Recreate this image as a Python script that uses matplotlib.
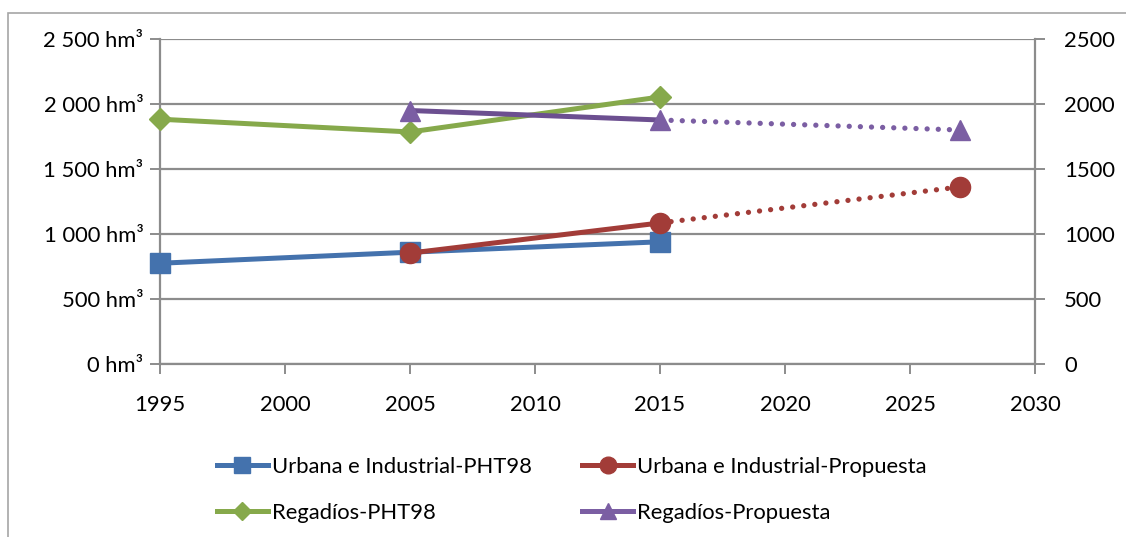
import matplotlib.pyplot as plt
from matplotlib.patches import Rectangle
from matplotlib.lines import Line2D

plt.rcParams['font.family'] = ['Lato', 'DejaVu Sans']

# data
urb_pht_years = [1995, 2005, 2015]
urb_pht_vals = [775, 860, 940]
urb_prop_years = [2005, 2015, 2027]
urb_prop_vals = [853, 1085, 1362]
reg_pht_years = [1995, 2005, 2015]
reg_pht_vals = [1883, 1785, 2054]
reg_prop_years = [2005, 2015, 2027]
reg_prop_vals = [1950, 1877, 1800]

x_ticks = [1995, 2000, 2005, 2010, 2015, 2020, 2025, 2030]
y_ticks = [0, 500, 1000, 1500, 2000, 2500]
left_labels = ['0 hm³', '500 hm³', '1 000 hm³', '1 500 hm³', '2 000 hm³', '2 500 hm³']
right_labels = ['0', '500', '1000', '1500', '2000', '2500']

names = ['Urbana e Industrial-PHT98', 'Urbana e Industrial-Propuesta',
         'Regadíos-PHT98', 'Regadíos-Propuesta']

blue = '#4472AD'
red = '#A23C38'
green = '#86A94B'
purple = '#7B5EA3'
grid_col = '#8C8C8C'
fs = 15.8

W, H = 1126, 537
fig = plt.figure(figsize=(W / 100, H / 100), dpi=100)
ax = fig.add_axes([160 / W, 1 - 364 / H, 875 / W, 325 / H])

# chart area border
fig.patches.append(Rectangle((8 / W, -0.02), 1.0, 1 - 13 / H + 0.02,
                             transform=fig.transFigure, fill=False,
                             edgecolor='#A6A6A6', linewidth=1.2))

lw = 3.6
dots = (0, (0.01, 2.1))
ax.plot(urb_pht_years, urb_pht_vals, color=blue, lw=lw, marker='s', ms=14,
        zorder=3, clip_on=False)
ax.plot(reg_pht_years, reg_pht_vals, color=green, lw=lw, marker='D', ms=11,
        zorder=3, clip_on=False)

# propuesta: solid up to 2015, dotted projection to 2027
ax.plot(urb_prop_years[:2], urb_prop_vals[:2], color=red, lw=lw, marker='o', ms=14.5, zorder=4)
ax.plot(urb_prop_years[1:], urb_prop_vals[1:], color=red, lw=3.8, ls=dots,
        dash_capstyle='round', zorder=4)
ax.plot(urb_prop_years[2:], urb_prop_vals[2:], color=red, marker='o', ms=14.5, ls='none', zorder=4)

ax.plot(reg_prop_years[:2], reg_prop_vals[:2], color='#6C4F90', lw=lw, zorder=4)
ax.plot(reg_prop_years[:2], reg_prop_vals[:2], color=purple, marker='^', ms=14, ls='none', zorder=4)
ax.plot(reg_prop_years[1:], reg_prop_vals[1:], color=purple, lw=3.8, ls=dots,
        dash_capstyle='round', zorder=4)
ax.plot(reg_prop_years[2:], reg_prop_vals[2:], color=purple, marker='^', ms=14, ls='none', zorder=4)

ax.set_xlim(1995, 2030)
ax.set_ylim(0, 2500)
ax.set_xticks(x_ticks)
ax.set_yticks(y_ticks)
ax.set_yticklabels(left_labels)
ax.yaxis.grid(True, color=grid_col, lw=1.6)
ax.set_axisbelow(True)
for side in ['top', 'right']:
    ax.spines[side].set_visible(False)
for side in ['left', 'bottom']:
    ax.spines[side].set_color(grid_col)
    ax.spines[side].set_linewidth(1.6)
ax.tick_params(axis='both', direction='out', length=7, width=1.4, color=grid_col,
               labelsize=fs, pad=5)
ax.tick_params(axis='x', pad=15)

ax2 = ax.twinx()
ax2.set_ylim(0, 2500)
ax2.set_yticks(y_ticks)
ax2.set_yticklabels(right_labels)
for side in ['top', 'left', 'bottom']:
    ax2.spines[side].set_visible(False)
ax2.spines['right'].set_color(grid_col)
ax2.spines['right'].set_linewidth(1.6)
ax2.tick_params(axis='y', direction='out', length=7, width=1.4, color=grid_col,
                labelsize=fs, pad=14)

# legend filled column by column, so order gives two rows
handles = [
    Line2D([], [], color=blue, lw=lw, marker='s', ms=12),
    Line2D([], [], color=green, lw=lw, marker='D', ms=9),
    Line2D([], [], color=red, lw=lw, marker='o', ms=12),
    Line2D([], [], color=purple, lw=lw, marker='^', ms=12),
]
labels = [names[0], names[2], names[1], names[3]]
fig.legend(handles, labels, loc='center', bbox_to_anchor=(572 / W, 1 - 490 / H),
           ncol=2, frameon=False, fontsize=fs, numpoints=1, handlelength=2.3,
           handletextpad=0.2, columnspacing=2.3, labelspacing=1.2)

fig.savefig('out.png', dpi=100)
